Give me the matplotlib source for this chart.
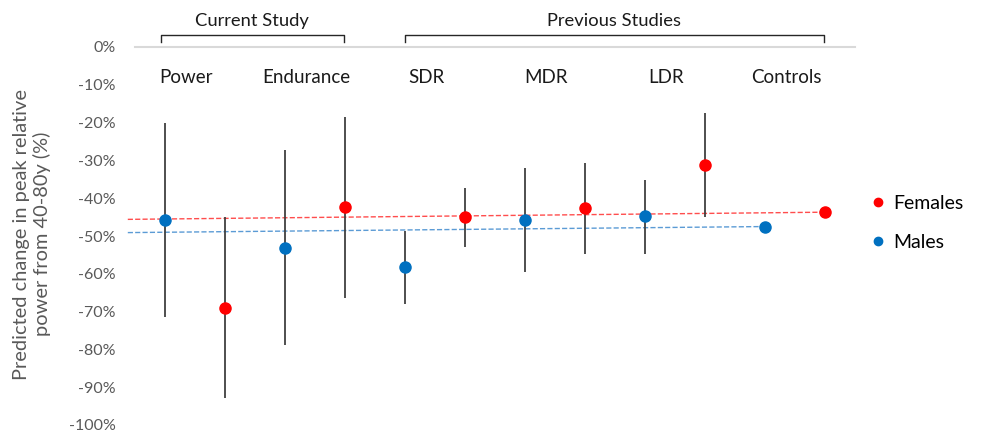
import matplotlib.pyplot as plt
import numpy as np

plt.rcParams['font.family'] = ['Lato', 'DejaVu Sans']

# data (percent change)
groups = ["Power", "Endurance", "SDR", "MDR", "LDR", "Controls"]
male_mean = [-45.8, -53.1, -58.1, -45.8, -44.7, -47.5]
male_hi = [-20.1, -27.2, -48.6, -32.1, -35.2, None]
male_lo = [-71.3, -78.8, -68.1, -59.6, -54.8, None]
female_mean = [-69.0, -42.2, -45.1, -42.5, -31.2, -43.7]
female_hi = [-44.9, -18.4, -37.4, -30.8, -17.5, None]
female_lo = [-92.8, -66.5, -53.0, -54.8, -44.9, None]
# trend line end values
female_trend = [-45.6, -43.7]
male_trend = [-49.1, -47.5]
yticks = list(range(0, -101, -10))

RED = "#ff0000"
BLUE = "#0070c0"
GRAY = "#595959"

fig = plt.figure(figsize=(9.83, 4.33), dpi=100)
ax = fig.add_axes([135 / 983, 8 / 433, 720 / 983, 378 / 433])

xm = np.arange(len(groups)) * 2
xf = xm + 1

# trend lines
ax.plot([-0.62, xf[-1]], female_trend, "--", color="#ff4d4d", lw=1.0, clip_on=False, zorder=1)
ax.plot([-0.62, xm[-1]], male_trend, "--", color="#5b9bd5", lw=1.0, clip_on=False, zorder=1)

# error bars
for i in range(len(groups)):
    if male_hi[i] is not None:
        ax.vlines(xm[i], male_lo[i], male_hi[i], color="#404040", lw=1.3, zorder=2)
    if female_hi[i] is not None:
        ax.vlines(xf[i], female_lo[i], female_hi[i], color="#404040", lw=1.3, zorder=2)

ax.plot(xf, female_mean, "o", color=RED, ms=8, zorder=3, label="Females")
ax.plot(xm, male_mean, "o", color=BLUE, ms=8, zorder=3, label="Males")

ax.set_xlim(-0.5, 11.5)
ax.set_ylim(-100, 0)
ax.set_yticks(yticks)
ax.set_yticklabels([f"{v}%" for v in yticks], color=GRAY, fontsize=11.5)
ax.tick_params(axis="y", length=0, pad=14)
ax.set_xticks([])
for s in ["left", "right", "bottom"]:
    ax.spines[s].set_visible(False)
ax.spines["top"].set_color("#d9d9d9")
ax.spines["top"].set_linewidth(1.5)

# category labels
for i, g in enumerate(groups):
    ax.text(xm[i] + 0.35, -8, g, ha="center", va="center", fontsize=13.5, color="#1a1a1a")

# brackets
def bracket(x0, x1, label):
    y0, y1 = 1.3, 3.3
    ax.plot([x0, x0, x1, x1], [y0, y1, y1, y0], color="#262626", lw=1.0, clip_on=False)
    ax.text((x0 + x1) / 2, 7.0, label, ha="center", va="center", fontsize=13.2, color="#1a1a1a")

bracket(-0.07, 2.98, "Current Study")
bracket(4.0, 10.98, "Previous Studies")

ax.set_ylabel("Predicted change in peak relative\npower from 40-80y (%)", color=GRAY, fontsize=14.4)
ax.yaxis.set_label_coords(-0.117, 0.505)

leg = ax.legend(loc="center left", bbox_to_anchor=(1.0, 0.535), frameon=False, fontsize=14,
                handlelength=0.6, handletextpad=0.45, labelspacing=1.15, markerscale=0.75)

fig.savefig("out.png", dpi=100)
